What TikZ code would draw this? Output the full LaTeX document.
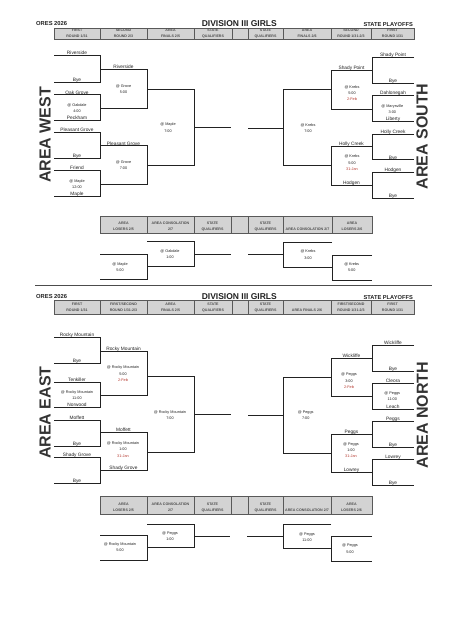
\documentclass[tikz,border=0pt]{standalone}
\usepackage{fontspec}
\setmainfont{Liberation Sans}
\definecolor{datered}{HTML}{B5382E}
\definecolor{hdrfill}{HTML}{D3D3D3}
\definecolor{ink}{HTML}{222222}
\newcounter{nn}
\newcommand{\bpair}[4]{\draw[bl] (#1,#3) -- (#2,#3) -- (#2,#4) -- (#1,#4);}
\newcommand{\bline}[3]{\draw[bl] (#1,#3) -- (#2,#3);}
\newcommand{\blab}[4]{\stepcounter{nn}\node[team] (n\arabic{nn}) at ({(#1+#2)/2},#3) {#4};}
\newcommand{\bven}[3]{\stepcounter{nn}\node[venue] (n\arabic{nn}) at (#1,#2) {#3};}
% x1, x2, y1, y2, baseline of first line, line1, line2
\newcommand{\hcell}[7]{\draw[hdr] (#1,#3) rectangle (#2,#4);
  \stepcounter{nn}\node[hdrtext] (n\arabic{nn}) at ({(#1+#2)/2},#5) {#6};
  \stepcounter{nn}\node[hdrtext] (n\arabic{nn}) at ({(#1+#2)/2},#5+5.8) {#7};}
\newcommand{\rdate}[1]{\textcolor{datered}{#1}}
\begin{document}
\begin{tikzpicture}[x=1pt,y=-1pt,
  bl/.style={line width=1pt, draw=ink},
  team/.style={font=\fontsize{4.8}{6}\selectfont, anchor=base, inner sep=0, yshift=0.9pt, text=ink},
  venue/.style={font=\fontsize{3.8}{6.2}\selectfont, align=center, inner sep=0, text=ink},
  hdr/.style={fill=hdrfill, draw=black!65, line width=0.6pt},
  hdrtext/.style={font=\bfseries\fontsize{3.6}{4}\selectfont, anchor=base, inner sep=0, text=black!70},
  area/.style={rotate=90, font=\bfseries\fontsize{16}{16}\selectfont, inner sep=0, text=black!80},
  title/.style={inner sep=0, text=ink}]
\fill[white] (0,0) rectangle (474,620);
\useasboundingbox (0,0) rectangle (474,620);

% ===== TOP TITLES =====
\node[title, font=\bfseries\fontsize{5.8}{6}\selectfont, anchor=base west] (t1) at (36,26) {ORES 2026};
\node[title, font=\bfseries\fontsize{8.5}{9}\selectfont, anchor=base] (t2) at (239.3,26.7) {DIVISION III GIRLS};
\node[title, font=\bfseries\fontsize{5.7}{6}\selectfont, anchor=base east] (t3) at (413,26.7) {STATE PLAYOFFS};

\hcell{54}{100}{28}{39.5}{32}{FIRST}{ROUND 1/31}
\hcell{100}{147}{28}{39.5}{32}{SECOND}{ROUND 2/3}
\hcell{147}{194}{28}{39.5}{32}{AREA}{FINALS 2/5}
\hcell{194}{232}{28}{39.5}{32}{STATE}{QUALIFIERS}
\hcell{232}{248}{28}{39.5}{32}{}{}
\hcell{248}{283}{28}{39.5}{32}{STATE}{QUALIFIERS}
\hcell{283}{331}{28}{39.5}{32}{AREA}{FINALS 2/6}
\hcell{331}{371}{28}{39.5}{32}{SECOND}{ROUND 1/31-2/3}
\hcell{371}{414}{28}{39.5}{32}{FIRST}{ROUND 1/31}

% ===== AREA WEST =====
\node[area] (aw) at (45,135) {AREA WEST};
\bpair{54}{100}{55.7}{82.7}
\blab{54}{100}{55.7}{Riverside}
\blab{54}{100}{82.7}{Bye}
\bpair{54}{100}{95}{120.7}
\blab{54}{100}{95}{Oak Grove}
\blab{54}{100}{120.7}{Peckham}
\bven{77}{108.3}{@ Oakdale\\4:00}
\bpair{54}{100}{132.7}{158.3}
\blab{54}{100}{132.7}{Pleasant Grove}
\blab{54}{100}{158.3}{Bye}
\bpair{54}{100}{170.7}{196.7}
\blab{54}{100}{170.7}{Friend}
\blab{54}{100}{196.7}{Maple}
\bven{77}{184.5}{@ Maple\\12:00}
\bpair{100}{147}{69.3}{108.3}
\blab{100}{147}{69.3}{Riverside}
\bven{123.5}{89.5}{@ Grove\\5:00}
\bpair{100}{147}{146}{184.3}
\blab{100}{147}{146}{Pleasant Grove}
\bven{123.5}{165.5}{@ Grove\\7:00}
\bpair{147}{194}{89.3}{165.7}
\bven{168}{127.7}{@ Maple\\7:00}
\bline{194}{231}{128}

% ===== AREA SOUTH =====
\node[area] (as) at (422,136.5) {AREA SOUTH};
\bpair{414}{372}{57.3}{83.3}
\blab{414}{372}{57.3}{Shady Point}
\blab{414}{372}{83.3}{Bye}
\bpair{414}{372}{95.7}{121.7}
\blab{414}{372}{95.7}{Dahlonegah}
\blab{414}{372}{121.7}{Liberty}
\bven{392.3}{109}{@ Marysville\\3:00}
\bpair{414}{372}{134.7}{160}
\blab{414}{372}{134.7}{Holly Creek}
\blab{414}{372}{160}{Bye}
\bpair{414}{372}{172.7}{198.3}
\blab{414}{372}{172.7}{Hodgen}
\blab{414}{372}{198.3}{Bye}
\bpair{372}{331}{70.7}{109.3}
\blab{372}{331}{70.7}{Shady Point}
\bven{352}{93}{@ Krebs\\5:00\\\rdate{2-Feb}}
\bpair{372}{331}{146.7}{185.3}
\blab{372}{331}{146.7}{Holly Creek}
\blab{372}{331}{185.3}{Hodgen}
\bven{352}{162.8}{@ Krebs\\5:00\\\rdate{31-Jan}}
\bpair{331}{283}{89.3}{166}
\bven{308}{128}{@ Krebs\\7:00}
\bline{248}{283}{128.3}

% ===== TOP CONSOLATION =====
\hcell{100}{147}{216}{233}{224.6}{AREA}{LOSERS 2/5}
\hcell{147}{194}{216}{233}{224.6}{AREA CONSOLATION}{2/7}
\hcell{194}{231}{216}{233}{224.6}{STATE}{QUALIFIERS}
\hcell{231}{248}{216}{233}{224.6}{}{}
\hcell{248}{283}{216}{233}{224.6}{STATE}{QUALIFIERS}
\hcell{283}{332}{216}{233}{224.6}{}{AREA CONSOLATION 2/7}
\hcell{332}{372}{216}{233}{224.6}{AREA}{LOSERS 2/6}
\bpair{100}{147}{254}{279.3}
\bven{120}{267.2}{@ Maple\\5:00}
\bpair{147}{194}{241.7}{266.7}
\bven{170}{254.2}{@ Oakdale\\1:00}
\bline{194}{231}{254.3}
\bline{248}{283}{254.3}
\bpair{332}{283}{242.3}{267.7}
\bven{308}{254.7}{@ Krebs\\3:00}
\bpair{372}{332}{255}{280}
\bven{351.7}{267.3}{@ Krebs\\5:00}

% ===== SEPARATOR =====
\draw[line width=1.3pt, draw=black!70] (35,285.5) -- (432,285.5);

% ===== BOTTOM TITLES =====
\node[title, font=\bfseries\fontsize{5.8}{6}\selectfont, anchor=base west] (b1) at (36,298) {ORES 2026};
\node[title, font=\bfseries\fontsize{8.5}{9}\selectfont, anchor=base] (b2) at (239.3,299) {DIVISION III GIRLS};
\node[title, font=\bfseries\fontsize{5.7}{6}\selectfont, anchor=base east] (b3) at (413,299) {STATE PLAYOFFS};

\hcell{54}{100}{300.7}{314}{305.3}{FIRST}{ROUND 1/31}
\hcell{100}{147}{300.7}{314}{305.3}{FIRST/SECOND}{ROUND 1/31-2/3}
\hcell{147}{194}{300.7}{314}{305.3}{AREA}{FINALS 2/5}
\hcell{194}{232}{300.7}{314}{305.3}{STATE}{QUALIFIERS}
\hcell{232}{248}{300.7}{314}{305.3}{}{}
\hcell{248}{283}{300.7}{314}{305.3}{STATE}{QUALIFIERS}
\hcell{283}{331}{300.7}{314}{305.3}{}{AREA FINALS 2/6}
\hcell{331}{371}{300.7}{314}{305.3}{FIRST/SECOND}{ROUND 1/31-2/3}
\hcell{371}{414}{300.7}{314}{305.3}{FIRST}{ROUND 1/31}

% ===== AREA EAST =====
\node[area] (ae) at (45,412.7) {AREA EAST};
\bpair{54}{100}{337.3}{363.3}
\blab{54}{100}{337.3}{Rocky Mountain}
\blab{54}{100}{363.3}{Bye}
\bpair{54}{100}{382.3}{407.7}
\blab{54}{100}{382.3}{Tenkiller}
\blab{54}{100}{407.7}{Norwood}
\bven{77}{395.2}{@ Rocky Mountain\\11:00}
\bpair{54}{100}{420}{446}
\blab{54}{100}{420}{Moffett}
\blab{54}{100}{446}{Bye}
\bpair{54}{100}{457.7}{483.3}
\blab{54}{100}{457.7}{Shady Grove}
\blab{54}{100}{483.3}{Bye}
\bpair{100}{147}{351}{395}
\blab{100}{147}{351}{Rocky Mountain}
\bven{123}{373.8}{@ Rocky Mountain\\5:00\\\rdate{2-Feb}}
\bpair{100}{147}{432.7}{470.7}
\blab{100}{147}{432.7}{Moffett}
\blab{100}{147}{470.7}{Shady Grove}
\bven{123}{449.5}{@ Rocky Mountain\\1:00\\\rdate{31-Jan}}
\bpair{147}{194}{376.7}{452.7}
\bven{170}{414.8}{@ Rocky Mountain\\7:00}
\bline{194}{231}{414.7}

% ===== AREA NORTH =====
\node[area] (an) at (422.3,415) {AREA NORTH};
\bpair{414}{372}{345}{371.7}
\blab{414}{372}{345}{Wickliffe}
\blab{414}{372}{371.7}{Bye}
\bpair{414}{372}{383.3}{409.3}
\blab{414}{372}{383.3}{Cleora}
\blab{414}{372}{409.3}{Leach}
\bven{392.3}{396.5}{@ Peggs\\11:00}
\bpair{414}{372}{421.7}{447.3}
\blab{414}{372}{421.7}{Peggs}
\blab{414}{372}{447.3}{Bye}
\bpair{414}{372}{459.7}{485}
\blab{414}{372}{459.7}{Lowrey}
\blab{414}{372}{485}{Bye}
\bpair{372}{331}{358.3}{396}
\blab{372}{331}{358.3}{Wickliffe}
\bven{349}{380.7}{@ Peggs\\3:00\\\rdate{2-Feb}}
\bpair{372}{331}{434}{472}
\blab{372}{331}{434}{Peggs}
\blab{372}{331}{472}{Lowrey}
\bven{351}{450.3}{@ Peggs\\1:00\\\rdate{31-Jan}}
\bpair{331}{283}{377.3}{453.3}
\bven{305.7}{415.5}{@ Peggs\\7:00}
\bline{248}{283}{415}

% ===== BOTTOM CONSOLATION =====
\hcell{100}{147}{496.7}{514}{505.3}{AREA}{LOSERS 2/5}
\hcell{147}{194}{496.7}{514}{505.3}{AREA CONSOLATION}{2/7}
\hcell{194}{231}{496.7}{514}{505.3}{STATE}{QUALIFIERS}
\hcell{231}{248}{496.7}{514}{505.3}{}{}
\hcell{248}{283}{496.7}{514}{505.3}{STATE}{QUALIFIERS}
\hcell{283}{331}{496.7}{514}{505.3}{}{AREA CONSOLATION 2/7}
\hcell{331}{372}{496.7}{514}{505.3}{AREA}{LOSERS 2/6}
\bpair{100}{147}{535.7}{560.7}
\bven{120}{547.2}{@ Rocky Mountain\\5:00}
\bpair{147}{194}{524}{547.3}
\bven{170}{536}{@ Peggs\\1:00}
\bline{194}{230}{536.3}
\bline{247}{283}{536.3}
\bpair{331}{283}{524.3}{548.3}
\bven{307}{536.8}{@ Peggs\\11:00}
\bpair{372}{331}{536.7}{561.7}
\bven{350}{548.7}{@ Peggs\\5:00}
\end{tikzpicture}
\end{document}
